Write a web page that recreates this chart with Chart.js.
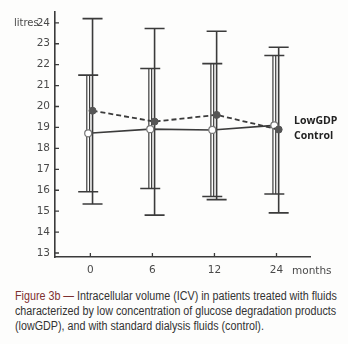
<!DOCTYPE html>
<html>
<head>
<meta charset="utf-8">
<script src="https://cdn.jsdelivr.net/npm/chart.js@4.4.1/dist/chart.umd.min.js"></script>
<style>
  html, body { margin: 0; padding: 0; background: #fdfdfc; }
  #wrap { position: relative; width: 348px; height: 285px; }
  #caption {
    position: absolute; left: 15px; top: 289px;
    font-family: "Liberation Sans", sans-serif;
    font-size: 12px; line-height: 15px; color: #333;
  }
  #caption div { white-space: nowrap; transform: scaleX(0.895); transform-origin: 0 0; }
  #caption b { color: #7d3030; font-weight: normal; }
</style>
</head>
<body>
<div id="wrap"><canvas id="icv" width="348" height="285"></canvas></div>
<div id="caption">
  <div><b>Figure 3b —</b> Intracellular volume (ICV) in patients treated with fluids</div>
  <div>characterized by low concentration of glucose degradation products</div>
  <div>(lowGDP), and with standard dialysis fluids (control).</div>
</div>
<script>
// === ICV über die Zeit: Mittelwert ± SD für zwei Gruppen ===
const months = ['0', '6', '12', '24'];
const yTicks = [13, 14, 15, 16, 17, 18, 19, 20, 21, 22, 23, 24];

// LowGDP (gestrichelt, gefüllte Punkte)
const lowGdpMean = [19.8, 19.28, 19.6, 18.9];
const lowGdpLow  = [15.34, 14.81, 15.55, 14.92];
const lowGdpHigh = [24.2, 23.73, 23.6, 22.83];

// Control (durchgezogen, offene Punkte)
const controlMean = [18.72, 18.92, 18.88, 19.1];
const controlLow  = [15.93, 16.08, 15.7, 15.82];
const controlHigh = [21.5, 21.82, 22.05, 22.44];

const INK = '#3b3b3b';
const SHIFT = 0.035; // kleine seitliche Verschiebung, damit sich die Fehlerbalken nicht überdecken

function toXY(values, dx) {
  return values.map((v, i) => ({ x: i + dx, y: v }));
}

// Fehlerbalken, Achsen-Ticks nach innen und Beschriftungen
const errorBarPlugin = {
  id: 'errorBars',
  beforeDatasetsDraw(chart) {
    const { ctx, scales: { x, y } } = chart;
    const cap = 10;
    function bar(i, dx, lo, hi, hollow) {
      const px = x.getPixelForValue(i + dx);
      const yl = y.getPixelForValue(lo), yh = y.getPixelForValue(hi);
      ctx.save();
      ctx.strokeStyle = INK;
      ctx.lineWidth = hollow ? 4 : 1.6;
      ctx.beginPath(); ctx.moveTo(px, yl); ctx.lineTo(px, yh); ctx.stroke();
      if (hollow) {
        ctx.strokeStyle = '#fdfdfc'; ctx.lineWidth = 1.6;
        ctx.beginPath(); ctx.moveTo(px, yl + 1); ctx.lineTo(px, yh - 1); ctx.stroke();
      }
      ctx.strokeStyle = INK; ctx.lineWidth = 1.6;
      ctx.beginPath();
      ctx.moveTo(px - cap, yl); ctx.lineTo(px + cap, yl);
      ctx.moveTo(px - cap, yh); ctx.lineTo(px + cap, yh);
      ctx.stroke();
      ctx.restore();
    }
    months.forEach((m, i) => {
      bar(i, -SHIFT, controlLow[i], controlHigh[i], true);
      bar(i, SHIFT, lowGdpLow[i], lowGdpHigh[i], false);
    });
  },
  afterDraw(chart) {
    const { ctx, chartArea: a, scales: { x, y } } = chart;
    ctx.save();
    ctx.strokeStyle = INK; ctx.lineWidth = 1.3;
    ctx.beginPath();
    yTicks.forEach(v => { const py = y.getPixelForValue(v); ctx.moveTo(a.left, py); ctx.lineTo(a.left + 4, py); });
    months.forEach((m, i) => { const px = x.getPixelForValue(i); ctx.moveTo(px, a.bottom); ctx.lineTo(px, a.bottom - 4); });
    ctx.stroke();

    ctx.fillStyle = '#4a4a4a';
    ctx.font = '10px "DejaVu Sans", sans-serif';
    ctx.textBaseline = 'middle';
    ctx.textAlign = 'left';
    ctx.fillText('litres', 14, 23);
    ctx.font = '10.5px "DejaVu Sans", sans-serif';
    ctx.fillText('months', 292, 271);

    ctx.fillStyle = '#222';
    ctx.font = 'bold 10.5px "Open Sans", sans-serif';
    ctx.fillText('LowGDP', 294, 121);
    ctx.fillText('Control', 294, 136);
    ctx.restore();
  }
};

new Chart(document.getElementById('icv'), {
  type: 'scatter',
  data: {
    datasets: [
      {
        label: 'LowGDP',
        data: toXY(lowGdpMean, SHIFT),
        showLine: true,
        borderColor: INK,
        borderWidth: 1.8,
        borderDash: [5, 3],
        pointRadius: 3.5,
        pointBackgroundColor: '#555',
        pointBorderColor: '#555',
        pointBorderWidth: 1
      },
      {
        label: 'Control',
        data: toXY(controlMean, -SHIFT),
        showLine: true,
        borderColor: INK,
        borderWidth: 1.6,
        pointRadius: 3.5,
        pointBackgroundColor: '#fff',
        pointBorderColor: '#777',
        pointBorderWidth: 1.2
      }
    ]
  },
  options: {
    responsive: false,
    animation: false,
    layout: { padding: { top: 3, right: 38, left: 0, bottom: 0 } },
    plugins: { legend: { display: false }, tooltip: { enabled: false } },
    scales: {
      x: {
        type: 'linear',
        min: -0.57, max: 3.54,
        afterBuildTicks: s => { s.ticks = months.map((m, i) => ({ value: i })); },
        afterFit: s => { s.height = 28; },
        grid: { display: false, drawTicks: false },
        border: { display: true, color: INK, width: 1.6 },
        ticks: {
          padding: 7,
          color: '#4a4a4a',
          font: { family: 'DejaVu Sans', size: 10.5 },
          callback: v => months[v]
        }
      },
      y: {
        min: 12.81, max: 24.55,
        afterBuildTicks: s => { s.ticks = yTicks.map(v => ({ value: v })); },
        afterFit: s => { s.width = 55; },
        grid: { display: false, drawTicks: false },
        border: { display: true, color: INK, width: 1.6 },
        ticks: {
          padding: 5,
          color: '#4a4a4a',
          font: { family: 'DejaVu Sans', size: 10.5 }
        }
      }
    }
  },
  plugins: [errorBarPlugin]
});
</script>
</body>
</html>
